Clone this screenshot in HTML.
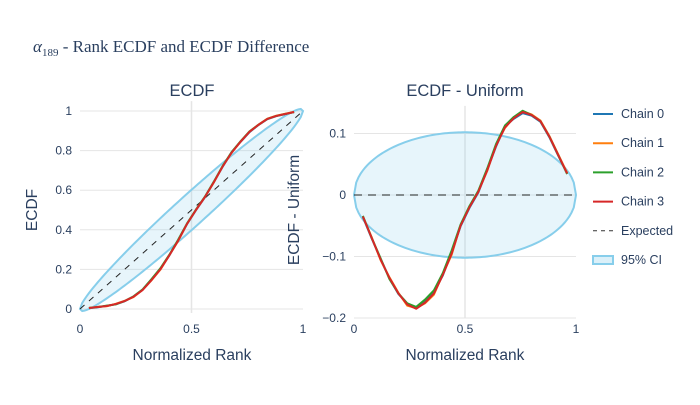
<!DOCTYPE html>
<html><head><meta charset="utf-8"><style>
body{margin:0;background:#fff;}
svg{font-family:"Liberation Sans",sans-serif;}
</style></head><body>
<svg id="chart" width="700" height="400" xmlns="http://www.w3.org/2000/svg">
<text x="33" y="52" font-family="Liberation Serif,serif" font-size="17" fill="#2a3f5f"><tspan font-style="italic">α</tspan><tspan font-size="11" dy="4">189</tspan><tspan dy="-4"> - Rank ECDF and ECDF Difference</tspan></text>
<text x="192" y="96" text-anchor="middle" font-size="16.5" fill="#2a3f5f">ECDF</text>
<text x="465" y="96" text-anchor="middle" font-size="16.5" fill="#2a3f5f">ECDF - Uniform</text>
<g id="left"></g><g id="right"></g>
<text x="192" y="360" text-anchor="middle" font-size="15.5" fill="#2a3f5f">Normalized Rank</text>
<text x="465" y="360" text-anchor="middle" font-size="15.5" fill="#2a3f5f">Normalized Rank</text>
<text transform="translate(37,210) rotate(-90)" text-anchor="middle" font-size="15.5" fill="#2a3f5f">ECDF</text>
<text transform="translate(299,210) rotate(-90)" text-anchor="middle" font-size="15.5" fill="#2a3f5f">ECDF - Uniform</text>
<g id="legend"></g>
</svg>
<script>
const ranks=[0.04,0.08,0.12,0.16,0.20,0.24,0.28,0.32,0.36,0.40,0.44,0.48,0.52,0.56,0.60,0.64,0.68,0.72,0.76,0.80,0.84,0.88,0.92,0.96];
const chain0=[-0.036,-0.071,-0.104,-0.136,-0.161,-0.177,-0.183,-0.172,-0.158,-0.131,-0.093,-0.051,-0.021,0.004,0.041,0.079,0.112,0.124,0.133,0.129,0.119,0.094,0.064,0.035];
const chain1=[-0.035,-0.069,-0.106,-0.134,-0.159,-0.180,-0.184,-0.176,-0.162,-0.129,-0.097,-0.049,-0.019,0.006,0.039,0.082,0.109,0.126,0.136,0.131,0.121,0.096,0.066,0.036];
const chain2=[-0.034,-0.070,-0.103,-0.137,-0.160,-0.176,-0.182,-0.170,-0.155,-0.127,-0.090,-0.048,-0.018,0.007,0.043,0.083,0.113,0.127,0.137,0.130,0.120,0.095,0.065,0.034];
const chain3=[-0.035,-0.070,-0.105,-0.135,-0.160,-0.178,-0.185,-0.175,-0.160,-0.130,-0.095,-0.050,-0.020,0.005,0.040,0.080,0.110,0.125,0.135,0.130,0.120,0.095,0.065,0.035];
const chains=[chain0,chain1,chain2,chain3];
const colors=['#1f77b4','#ff7f0e','#2ca02c','#d62728'];
const chainNames=['Chain 0','Chain 1','Chain 2','Chain 3'];
const ciHalfWidth=0.102;
const leftYTicks=[0,0.2,0.4,0.6,0.8,1];
const leftYLabels=['0','0.2','0.4','0.6','0.8','1'];
const rightYTicks=[-0.2,-0.1,0,0.1];
const rightYLabels=['\u22120.2','\u22120.1','0','0.1'];
const xTicks=[0,0.5,1];
const xLabels=['0','0.5','1'];

const NS='http://www.w3.org/2000/svg';
function mk(tag,attrs,parent){const e=document.createElementNS(NS,tag);for(const k in attrs)e.setAttribute(k,attrs[k]);parent.appendChild(e);return e;}
const lx=x=>80+x*223, ly=y=>309-y*198;
const rx=x=>354+x*222, ry=y=>195-y*615;
function band(x){return ciHalfWidth*2*Math.sqrt(Math.max(0,x*(1-x)));}

function panel(g,X,Y,yt,yl,isDiff,name){
  yt.forEach((t,i)=>{
    const l=mk('line',{x1:X(0),x2:X(1),y1:Y(t),y2:Y(t),stroke:'#e5e5e5','stroke-width':1},g);
    
    
    const tx=mk('text',{x:X(0)-8,y:Y(t)+4,'text-anchor':'end','font-size':12,fill:'#2a3f5f'},g);
    tx.textContent=yl[i];
    
    
  });
  xTicks.forEach((t,i)=>{
    if(t===0.5){const l=mk('line',{x1:X(t),x2:X(t),y1:Y(isDiff?0.145:1.05),y2:Y(isDiff?-0.2:-0.02),stroke:'#e5e5e5','stroke-width':1.5},g);
    
    }
    const tx=mk('text',{x:X(t),y:333,'text-anchor':'middle','font-size':12,fill:'#2a3f5f'},g);
    tx.textContent=xLabels[i];
    
    
  });
  let up=[],lo=[];
  for(let i=0;i<=100;i++){const x=i/100,b=band(x),c=isDiff?0:x;up.push(X(x)+','+Y(c+b));lo.unshift(X(x)+','+Y(c-b));}
  const p=mk('polygon',{points:up.concat(lo).join(' '),fill:'rgba(135,206,235,0.2)',stroke:'#87ceeb','stroke-width':2},g);
  
  
  const e=mk('line',{x1:X(0),y1:Y(0),x2:X(1),y2:Y(isDiff?0:1),stroke:'#222','stroke-width':1,'stroke-dasharray':isDiff?'8,6':'6,6'},g);
  
  
  chains.forEach((c,k)=>{
    const pts=ranks.map((r,i)=>X(r)+','+Y(isDiff?c[i]:r+c[i]));
    const pl=mk('polyline',{points:pts.join(' '),fill:'none',stroke:colors[k],'stroke-width':2,'stroke-linejoin':'round'},g);
    
    
  });
}
const lg=document.getElementById('left'),rg=document.getElementById('right');




panel(lg,lx,ly,leftYTicks,leftYLabels,false,'ecdf');
panel(rg,rx,ry,rightYTicks,rightYLabels,true,'diff');

const leg=document.getElementById('legend');


const names=chainNames.concat(['Expected','95% CI']);
names.forEach((n,i)=>{
  const y=114+i*29.2;
  const g=mk('g',{},leg);
  
  
  if(i<4) mk('line',{x1:593,x2:613,y1:y,y2:y,stroke:colors[i],'stroke-width':2},g);
  else if(i===4) mk('line',{x1:593,x2:613,y1:y,y2:y,stroke:'#333','stroke-width':1,'stroke-dasharray':'4,4'},g);
  else mk('rect',{x:593,y:y-4,width:20,height:8,fill:'rgba(135,206,235,0.3)',stroke:'#87ceeb','stroke-width':2},g);
  const t=mk('text',{x:621,y:y+4,'font-size':12.5,fill:'#2a3f5f'},g);
  t.textContent=n;
});
</script>
</body></html>
